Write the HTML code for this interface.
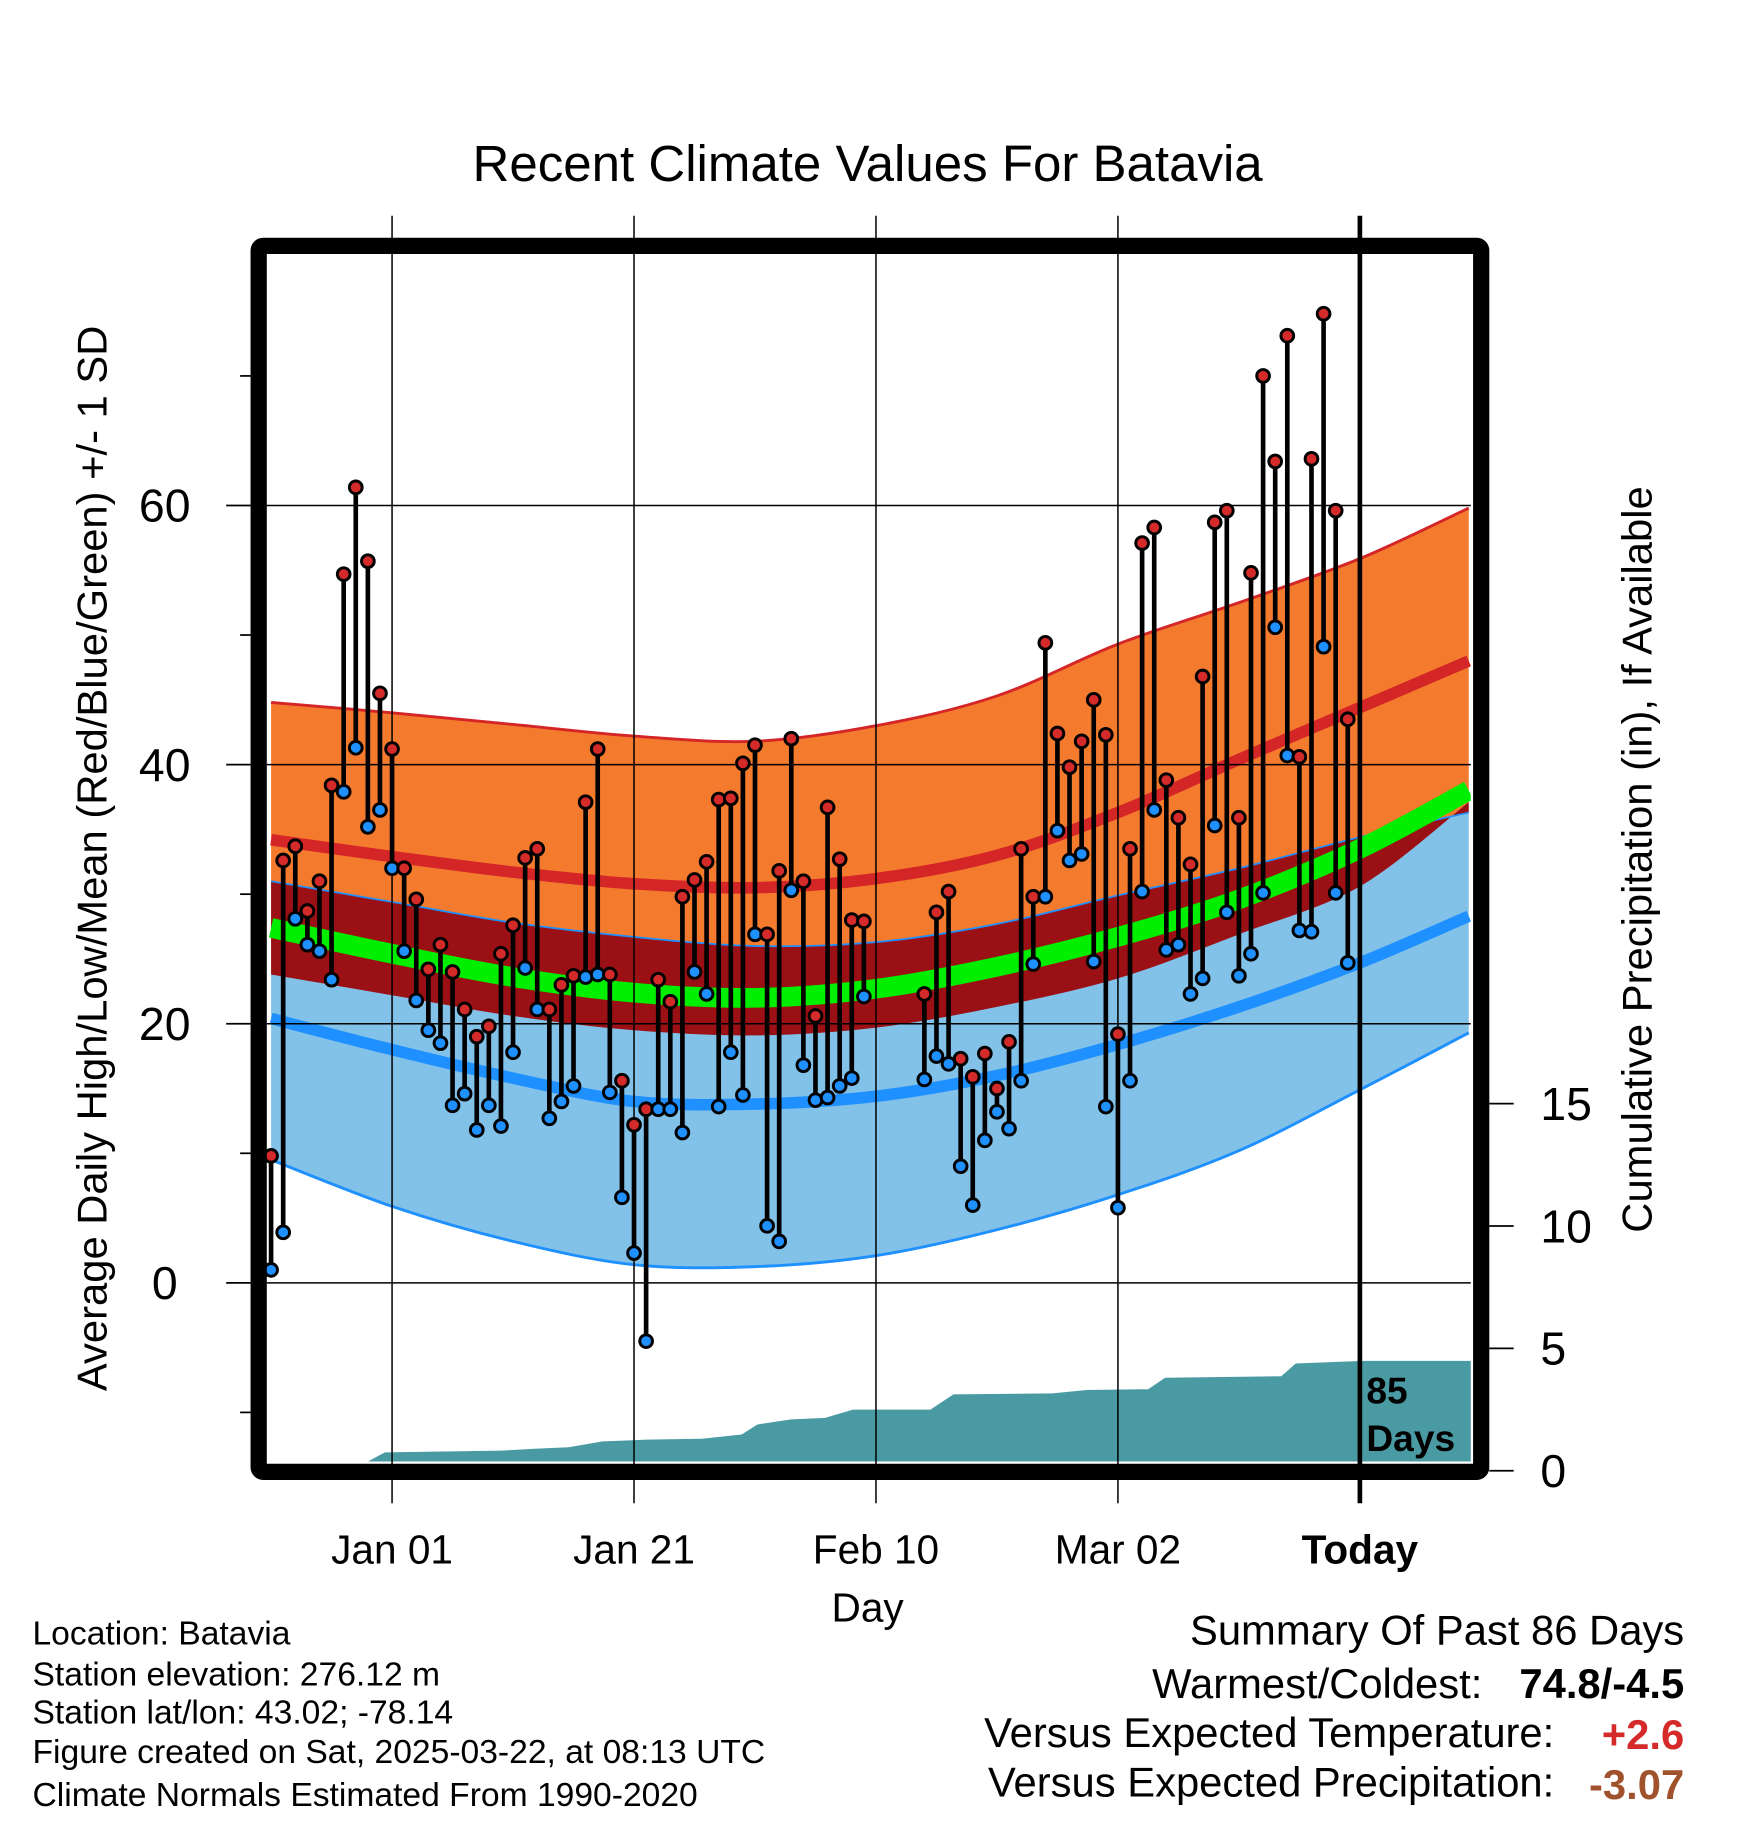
<!DOCTYPE html>
<html><head><meta charset="utf-8"><style>
html,body{margin:0;padding:0;background:#fff}
svg{display:block;font-family:"Liberation Sans",sans-serif}
</style></head><body>
<svg id="chart" width="1748" height="1828" viewBox="0 0 1507 1576" xmlns="http://www.w3.org/2000/svg">
<defs><clipPath id="plotclip"><rect x="230" y="218" width="1038" height="1042"/></clipPath></defs>
<text x="748" y="156" font-size="44" text-anchor="middle">Recent Climate Values For Batavia</text>
<g id="bands" clip-path="url(#plotclip)"></g>
<g id="grid"></g>
<g id="obs"></g>
<g id="axes"></g>
<text transform="translate(92,740) rotate(-90)" font-size="36" text-anchor="middle">Average Daily High/Low/Mean (Red/Blue/Green) +/- 1 SD</text>
<text transform="translate(1424,741) rotate(-90)" font-size="36" text-anchor="middle">Cumulative Precipitation (in), If Available</text>
<text x="748" y="1398" font-size="35" text-anchor="middle">Day</text>
<text x="1178" y="1210" font-size="32" font-weight="bold">85</text>
<text x="1178" y="1251" font-size="32" font-weight="bold">Days</text>
<g font-size="29">
<text x="28" y="1418">Location: Batavia</text>
<text x="28" y="1453">Station elevation: 276.12 m</text>
<text x="28" y="1486">Station lat/lon: 43.02; -78.14</text>
<text x="28" y="1520">Figure created on Sat, 2025-03-22, at 08:13 UTC</text>
<text x="28" y="1557">Climate Normals Estimated From 1990-2020</text>
</g>
<g font-size="36">
<text x="1452" y="1418" text-anchor="end">Summary Of Past 86 Days</text>
<text x="1278" y="1464" text-anchor="end">Warmest/Coldest:</text>
<text x="1452" y="1464" text-anchor="end" font-weight="bold">74.8/-4.5</text>
<text x="1340" y="1506" text-anchor="end">Versus Expected Temperature:</text>
<text x="1452" y="1508" text-anchor="end" font-weight="bold" fill="#d42a2a">+2.6</text>
<text x="1340" y="1549" text-anchor="end">Versus Expected Precipitation:</text>
<text x="1452" y="1551" text-anchor="end" font-weight="bold" fill="#a0522d">-3.07</text>
</g>
</svg>
<script>
const normDays = [-10,0,10,20,30,40,50,60,70,80,89];
const highUpper = [44.8,44.0,43.1,42.2,41.8,43.0,45.3,49.3,52.5,55.9,59.8];
const highMean  = [34.2,32.9,31.7,30.8,30.5,31.2,33.0,36.3,40.4,44.4,48.0];
const highLower = [23.8,22.2,20.6,19.5,19.1,19.7,21.3,23.5,26.9,30.6,37.1];
const lowUpper  = [31.0,29.4,27.8,26.7,26.0,26.3,27.7,29.9,32.0,34.4,36.3];
const lowMean   = [20.4,18.0,15.8,14.0,13.8,14.4,16.0,18.4,21.3,24.7,28.3];
const lowLower  = [9.5,5.9,3.2,1.4,1.25,2.1,4.1,6.8,10.2,14.9,19.3];
const avgMean   = [27.4,25.4,23.6,22.4,22.0,22.7,24.4,26.7,29.6,33.5,38.0];
const obsDays = [-10,-9,-8,-7,-6,-5,-4,-3,-2,-1,0,1,2,3,4,5,6,7,8,9,10,11,12,13,14,15,16,17,18,19,20,21,22,23,24,25,26,27,28,29,30,31,32,33,34,35,36,37,38,39,44,45,46,47,48,49,50,51,52,53,54,55,56,57,58,59,60,61,62,63,64,65,66,67,68,69,70,71,72,73,74,75,76,77,78,79];
const obsHigh = [9.8,32.6,33.7,28.7,31.0,38.4,54.7,61.4,55.7,45.5,41.2,32.0,29.6,24.2,26.1,24.0,21.1,19.0,19.8,25.4,27.6,32.8,33.5,21.1,23.0,23.7,37.1,41.2,23.8,15.6,12.2,13.4,23.4,21.7,29.8,31.1,32.5,37.3,37.4,40.1,41.5,26.9,31.8,42.0,31.0,20.6,36.7,32.7,28.0,27.9,22.3,28.6,30.2,17.3,15.9,17.7,15.0,18.6,33.5,29.8,49.4,42.4,39.8,41.8,45.0,42.3,19.2,33.5,57.1,58.3,38.8,35.9,32.3,46.8,58.7,59.6,35.9,54.8,70.0,63.4,73.1,40.6,63.6,74.8,59.6,43.5];
const obsLow = [1.0,3.9,28.1,26.1,25.6,23.4,37.9,41.3,35.2,36.5,32.0,25.6,21.8,19.5,18.5,13.7,14.6,11.8,13.7,12.1,17.8,24.3,21.1,12.7,14.0,15.2,23.6,23.8,14.7,6.6,2.3,-4.5,13.4,13.4,11.6,24.0,22.3,13.6,17.8,14.5,26.9,4.4,3.2,30.3,16.8,14.1,14.3,15.2,15.8,22.1,15.7,17.5,16.9,9.0,6.0,11.0,13.2,11.9,15.6,24.6,29.8,34.9,32.6,33.1,24.8,13.6,5.8,15.6,30.2,36.5,25.7,26.1,22.3,23.5,35.3,28.6,23.7,25.4,30.1,50.6,40.7,27.2,27.1,49.1,30.1,24.7];
const precipDays = [-12,-3.4,-0.6,9,11.8,14.6,17.4,21,25.6,28.9,30.2,33,35.8,38.1,44.5,46.4,54.6,57.4,62.5,63.9,73.5,74.7,78.1,80.4,90];
const precipVals = [0,0,0.75,0.82,0.9,0.96,1.2,1.27,1.31,1.48,1.89,2.1,2.16,2.5,2.5,3.12,3.16,3.3,3.33,3.8,3.86,4.38,4.45,4.49,4.49];
const tempTicks = [0,20,40,60];
const tempMinor = [-10,10,30,50,70];
const precipTicks = [0,5,10,15];
const xTickDays = [0,20,40,60,80];
const xTickLabels = ["Jan 01","Jan 21","Feb 10","Mar 02","Today"];

const NS="http://www.w3.org/2000/svg";
const xS = d => 338 + d*10.43;
const yT = t => 1106 - t*11.17;
const yP = p => 1268 - p*21.1;
function mk(tag, attrs, parent){const e=document.createElementNS(NS,tag);for(const k in attrs)e.setAttribute(k,attrs[k]);parent.appendChild(e);return e;}
function pts(vals){return normDays.map((d,i)=>[xS(d),yT(vals[i])]);}
function smooth(p){let s="M"+p[0][0]+","+p[0][1];for(let i=0;i<p.length-1;i++){const p0=p[Math.max(0,i-1)],p1=p[i],p2=p[i+1],p3=p[Math.min(p.length-1,i+2)];const c1=[p1[0]+(p2[0]-p0[0])/6,p1[1]+(p2[1]-p0[1])/6],c2=[p2[0]-(p3[0]-p1[0])/6,p2[1]-(p3[1]-p1[1])/6];s+=" C"+c1+" "+c2+" "+p2;}return s;}
function smoothRev(p){return smooth(p.slice().reverse()).replace(/^M/,"L");}
function band(a,b){return smooth(pts(a))+" "+smoothRev(pts(b))+" Z";}
const bands=document.getElementById("bands");
let e;
e=mk("path",{d:band(highUpper,highLower),fill:"#f47a2e"},bands);

e=mk("path",{d:band(lowUpper,lowLower),fill:"#82c1e8"},bands);

e=mk("path",{d:band(lowUpper,highLower),fill:"#9b1014"},bands);

e=mk("path",{d:smooth(pts(highUpper)),fill:"none",stroke:"#d42527","stroke-width":2.5},bands);

e=mk("path",{d:smooth(pts(lowUpper)),fill:"none",stroke:"#1e90ff","stroke-width":1.5},bands);

e=mk("path",{d:smooth(pts(lowLower)),fill:"none",stroke:"#1e90ff","stroke-width":2.5},bands);

e=mk("path",{d:smooth(pts(highMean)),fill:"none",stroke:"#d42527","stroke-width":10},bands);

e=mk("path",{d:smooth(pts(lowMean)),fill:"none",stroke:"#1e90ff","stroke-width":10},bands);

e=mk("path",{d:smooth(pts(avgMean)),fill:"none",stroke:"#00ee00","stroke-width":17},bands);

let pd="M"+xS(precipDays[0])+","+yP(0);
precipDays.forEach((d,i)=>{pd+=" L"+xS(d)+","+yP(precipVals[i]);});
pd+=" L"+xS(precipDays[precipDays.length-1])+","+yP(0)+" Z";
e=mk("path",{d:pd,fill:"#4a9aa3"},bands);


const grid=document.getElementById("grid");
tempTicks.forEach(t=>{
 e=mk("line",{x1:230,x2:1268,y1:yT(t),y2:yT(t),stroke:"#000","stroke-width":1.3},grid);
 
});
xTickDays.forEach((d,i)=>{
 e=mk("line",{x1:xS(d),x2:xS(d),y1:186,y2:1296,stroke:"#000","stroke-width":i==4?4:1.3},grid);
 
 e=mk("text",{x:xS(d),y:1348,"font-size":35,"text-anchor":"middle","font-weight":i==4?"bold":"normal"},grid);
 e.textContent=xTickLabels[i];
 
});

const obs=document.getElementById("obs");
obsDays.forEach((d,i)=>{
 const x=xS(d);
 e=mk("line",{x1:x,x2:x,y1:yT(obsHigh[i]),y2:yT(obsLow[i]),stroke:"#000","stroke-width":4},obs);
 
});
obsDays.forEach((d,i)=>{
 const x=xS(d);
 e=mk("circle",{cx:x,cy:yT(obsHigh[i]),r:5.5,fill:"#d42a2a",stroke:"#000","stroke-width":2.5},obs);
 
 e=mk("circle",{cx:x,cy:yT(obsLow[i]),r:5.5,fill:"#1e90ff",stroke:"#000","stroke-width":2.5},obs);
 
});

const axes=document.getElementById("axes");
e=mk("rect",{x:223,y:212,width:1054,height:1057,fill:"none",stroke:"#000","stroke-width":14,rx:4},axes);

tempTicks.forEach(t=>{
 e=mk("line",{x1:195,x2:216,y1:yT(t),y2:yT(t),stroke:"#000","stroke-width":1.5},axes);
 
 e=mk("text",{x:142,y:yT(t)+14,"font-size":40,"text-anchor":"middle"},axes);
 e.textContent=t;
 
});
tempMinor.forEach(t=>{
 e=mk("line",{x1:207,x2:216,y1:yT(t),y2:yT(t),stroke:"#000","stroke-width":1.5},axes);
 
});
precipTicks.forEach(p=>{
 e=mk("line",{x1:1284,x2:1305,y1:yP(p),y2:yP(p),stroke:"#000","stroke-width":1.5},axes);
 
 e=mk("text",{x:1328,y:yP(p)+14,"font-size":40},axes);
 e.textContent=p;
 
});
</script>
</body></html>
